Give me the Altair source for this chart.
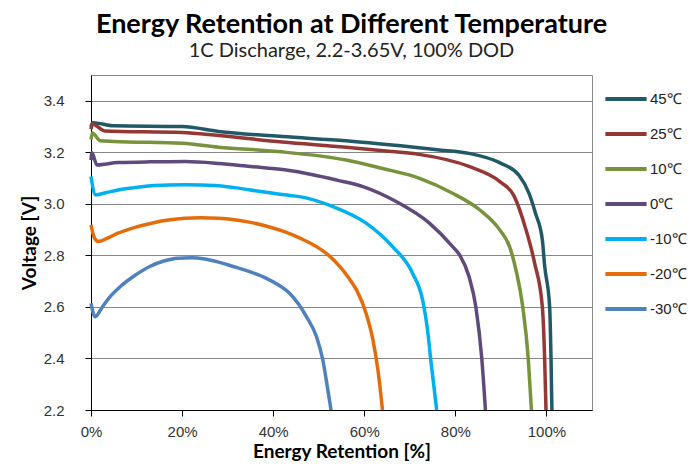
import altair as alt
import pandas as pd

series_names = ["45℃", "25℃", "10℃", "0℃", "-10℃", "-20℃", "-30℃"]
series_colors = ["#215968", "#953735", "#77933C", "#604A7B", "#00B0F0", "#E46C0A", "#4F81BD"]

x_45 = [0, 0.4, 5, 20, 28, 42, 56, 68, 76, 83, 89.7, 94, 96.2, 97.6, 99.1, 99.6, 100.7, 101.0, 101.2]
y_45 = [3.30, 3.315, 3.303, 3.30, 3.281, 3.261, 3.245, 3.225, 3.21, 3.196, 3.16, 3.11, 3.04, 2.963, 2.86, 2.76, 2.6, 2.4, 2.2]

x_25 = [0, 0.3, 3, 20, 28, 42, 56, 66, 72, 83, 89.7, 92.9, 95.5, 97.4, 99.1, 99.6, 99.9]
y_25 = [3.29, 3.31, 3.283, 3.277, 3.265, 3.24, 3.22, 3.203, 3.192, 3.145, 3.087, 3.03, 2.9, 2.77, 2.6, 2.4, 2.2]

x_10 = [0, 0.3, 2, 5, 20, 28, 41, 56, 64, 72, 79.4, 85.3, 89.7, 91.9, 93.3, 94.8, 96.0, 96.7]
y_10 = [3.25, 3.275, 3.245, 3.242, 3.235, 3.22, 3.203, 3.17, 3.137, 3.1, 3.041, 2.977, 2.9, 2.834, 2.744, 2.6, 2.4, 2.2]

x_0 = [0, 0.2, 1.3, 5.9, 13, 20.6, 28, 35, 42.5, 48.7, 54, 59.7, 67, 74.3, 79.4, 81, 83, 84.5, 85.8, 86.6]
y_0 = [3.17, 3.198, 3.151, 3.16, 3.163, 3.164, 3.157, 3.145, 3.132, 3.113, 3.092, 3.067, 3.009, 2.925, 2.834, 2.8, 2.718, 2.6, 2.4, 2.2]

x_m10 = [0, 1.0, 3, 5.9, 9.5, 13.3, 17, 20.6, 24, 27.9, 31.5, 35, 42.5, 45.8, 53, 60.4, 66.2, 70.6, 72.8, 73.9, 74.6, 75.9]
y_m10 = [3.106, 3.035, 3.042, 3.054, 3.063, 3.07, 3.073, 3.074, 3.073, 3.07, 3.063, 3.054, 3.035, 3.028, 2.99, 2.925, 2.834, 2.731, 2.627, 2.51, 2.394, 2.2]

x_m20 = [0, 0.7, 1.6, 3.5, 5.9, 9.5, 13.3, 17, 20.6, 24, 27.9, 31.5, 35, 38.8, 42.3, 46, 49.5, 52.2, 54.6, 56.6, 58.3, 60.4, 61.9, 63.0, 64.0]
y_m20 = [2.918, 2.87, 2.854, 2.866, 2.886, 2.908, 2.925, 2.937, 2.944, 2.946, 2.944, 2.938, 2.928, 2.912, 2.893, 2.866, 2.834, 2.8, 2.757, 2.712, 2.666, 2.575, 2.472, 2.355, 2.2]

x_m30 = [0, 0.9, 2.5, 4.2, 6.5, 9.3, 12.9, 16, 19, 22, 25, 28, 31.2, 35, 38.5, 41, 43.6, 45.6, 47.3, 49.5, 50.9, 52.0, 52.7]
y_m30 = [2.614, 2.562, 2.6, 2.64, 2.68, 2.718, 2.757, 2.778, 2.789, 2.791, 2.786, 2.774, 2.757, 2.736, 2.711, 2.687, 2.653, 2.61, 2.562, 2.485, 2.394, 2.278, 2.2]

x_ticks = [0, 20, 40, 60, 80, 100]
y_ticks = [2.2, 2.4, 2.6, 2.8, 3.0, 3.2, 3.4]

all_x = [x_45, x_25, x_10, x_0, x_m10, x_m20, x_m30]
all_y = [y_45, y_25, y_10, y_0, y_m10, y_m20, y_m30]

rows = []
for name, xs, ys in zip(series_names, all_x, all_y):
    for i, (xv, yv) in enumerate(zip(xs, ys)):
        rows.append({"temp": name, "retention": xv, "voltage": yv, "idx": i})
df = pd.DataFrame(rows)

chart = alt.Chart(df).mark_line(strokeWidth=3.5, interpolate="monotone").encode(
    x=alt.X("retention:Q",
            scale=alt.Scale(domain=[0, 110], nice=False, zero=False),
            axis=alt.Axis(values=x_ticks, labelExpr="datum.value + '%'", grid=False, labelFlush=False,
                          title="Energy Retention [%]", domainColor="#000", tickColor="#000",
                          tickSize=6, labelPadding=8, labelFontSize=15, labelFont="Liberation Sans",
                          labelColor="#333", titleFont="Lato", titleFontSize=19, titleFontWeight="bold",
                          titleColor="#000", titlePadding=3)),
    y=alt.Y("voltage:Q",
            scale=alt.Scale(domain=[2.2, 3.5], nice=False, zero=False),
            axis=alt.Axis(values=y_ticks, format=".1f", grid=True, gridColor="#888", gridWidth=1,
                          title="Voltage [V]", domainColor="#000", tickColor="#000",
                          tickSize=6, labelPadding=21, labelFontSize=15, labelFont="Liberation Sans",
                          labelColor="#333", titleFont="Lato", titleFontSize=19, titleFontWeight="bold",
                          titleColor="#000", titlePadding=4)),
    color=alt.Color("temp:N",
                    scale=alt.Scale(domain=series_names, range=series_colors),
                    legend=alt.Legend(title=None, orient="none", legendX=512, legendY=1,
                                      symbolType="stroke", symbolSize=1700, symbolStrokeWidth=4,
                                      labelFont="Liberation Sans", labelFontSize=15, labelColor="#222",
                                      labelOffset=1, rowPadding=4)),
    order="idx:Q",
).properties(
    width=501,
    height=335,
    padding={"left": 83, "top": 67, "right": 98, "bottom": 58},
    autosize=alt.AutoSizeParams(type="none"),
    title=alt.TitleParams(text="Energy Retention at Different Temperature",
                          subtitle="1C Discharge,  2.2-3.65V, 100% DOD",
                          font="Lato", fontSize=27, fontWeight="bold", color="#000",
                          subtitleFont="Lato", subtitleFontSize=20, subtitleColor="#222",
                          anchor="middle", dx=10, offset=13, subtitlePadding=2),
).configure_view(stroke="#888", strokeWidth=1)

chart.save("out.html", embed_options={"renderer": "svg", "actions": False})
